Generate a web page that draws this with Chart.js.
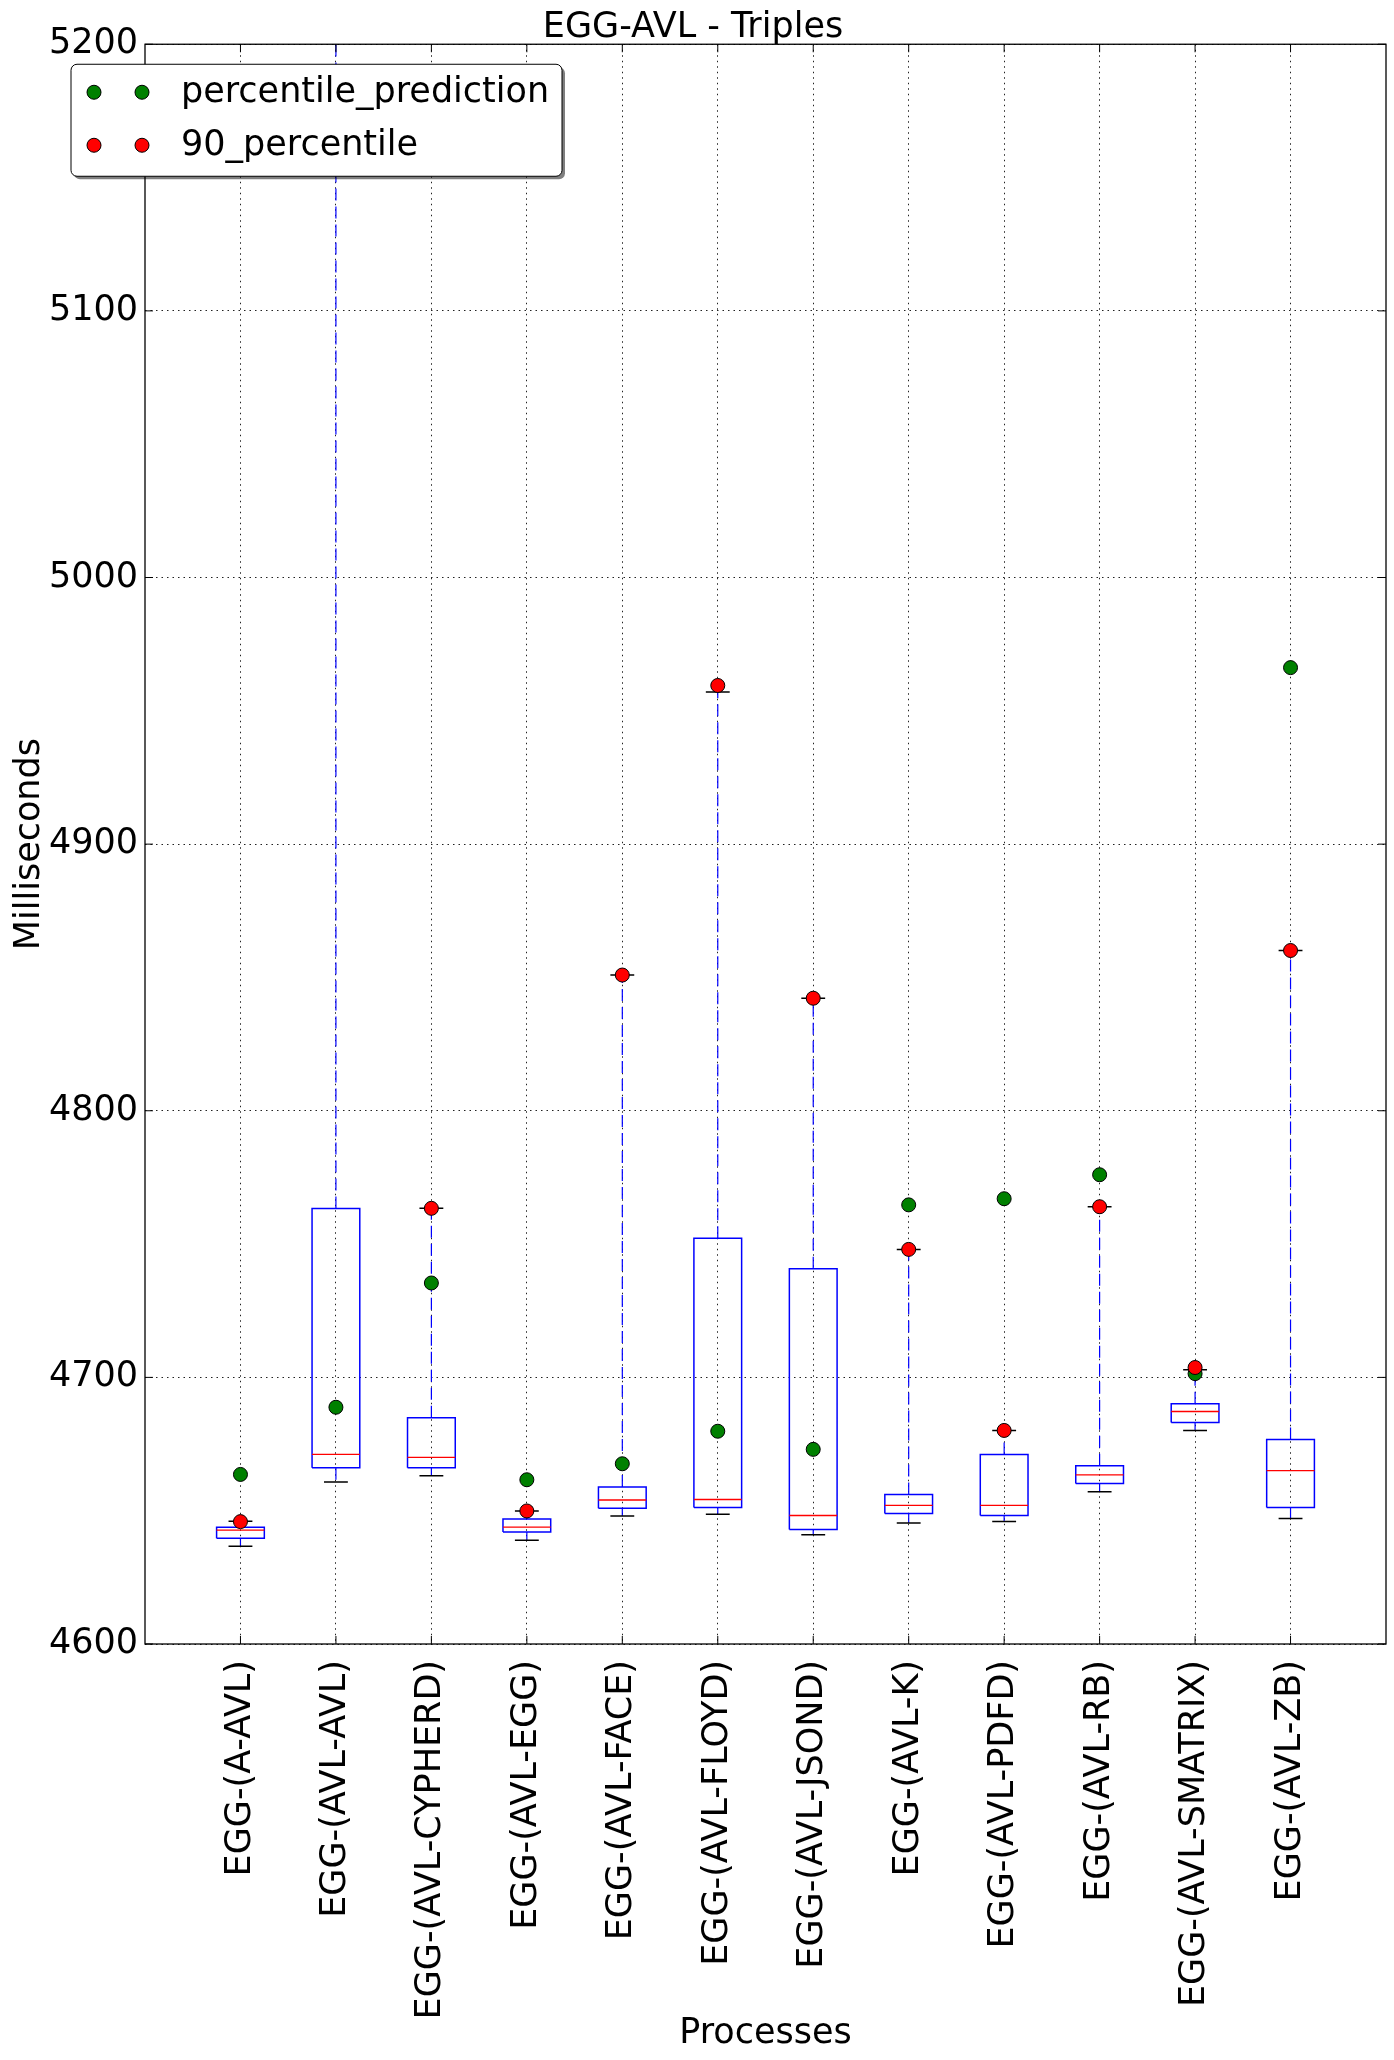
<!DOCTYPE html>
<html>
<head>
<meta charset="utf-8">
<script src="https://cdn.jsdelivr.net/npm/chart.js@4.4.1/dist/chart.umd.min.js"></script>
<style>
  html, body { margin: 0; padding: 0; background: #fff; }
  canvas { display: block; }
</style>
</head>
<body>
<canvas id="chart" width="1394" height="2060"></canvas>
<script>
const categories = [
  'EGG-(A-AVL)', 'EGG-(AVL-AVL)', 'EGG-(AVL-CYPHERD)', 'EGG-(AVL-EGG)',
  'EGG-(AVL-FACE)', 'EGG-(AVL-FLOYD)', 'EGG-(AVL-JSOND)', 'EGG-(AVL-K)',
  'EGG-(AVL-PDFD)', 'EGG-(AVL-RB)', 'EGG-(AVL-SMATRIX)', 'EGG-(AVL-ZB)'
];
const whiskerLow  = [4636.7, 4660.8, 4663.1, 4638.9, 4648.0, 4648.7, 4641.0, 4645.4, 4645.9, 4657.1, 4680.1, 4647.1];
const q1          = [4639.7, 4666.1, 4666.1, 4642.0, 4650.9, 4651.2, 4642.9, 4648.9, 4648.2, 4660.2, 4683.1, 4651.2];
const median      = [4642.7, 4671.1, 4670.0, 4643.8, 4654.0, 4654.2, 4648.2, 4652.0, 4652.0, 4663.4, 4687.2, 4665.0];
const q3          = [4643.8, 4763.3, 4684.9, 4646.9, 4658.9, 4752.2, 4740.7, 4656.1, 4671.1, 4666.9, 4690.1, 4676.7];
const whiskerHigh = [4646.0, 5330.0, 4763.4, 4649.9, 4850.9, 4957.1, 4842.2, 4748.0, 4680.1, 4764.0, 4702.9, 4860.1];
const prediction  = [4663.6, 4688.8, 4735.4, 4661.6, 4667.6, 4679.8, 4673.0, 4764.7, 4767.0, 4776.0, 4701.4, 4966.2];
const p90         = [4645.9, 5330.0, 4763.4, 4649.9, 4850.9, 4959.5, 4842.2, 4748.0, 4680.1, 4764.0, 4703.7, 4860.1];
const yTicks = [4600, 4700, 4800, 4900, 5000, 5100, 5200];

const FONT = 'DejaVu Sans';
const FONT_SIZE = 35;
const BOX_HALF = 0.25;
const CAP_HALF = 0.125;

// join several polylines into one dataset, with gaps between them
function paths(list) {
  const out = [];
  list.forEach((pts, k) => {
    if (k > 0) out.push({ x: pts[0].x, y: null });
    pts.forEach(p => out.push(p));
  });
  return out;
}

const boxPaths = paths(categories.map((c, i) => {
  const x = i + 1;
  return [
    { x: x - BOX_HALF, y: q1[i] }, { x: x + BOX_HALF, y: q1[i] },
    { x: x + BOX_HALF, y: q3[i] }, { x: x - BOX_HALF, y: q3[i] },
    { x: x - BOX_HALF, y: q1[i] }
  ];
}));
const medianPaths = paths(categories.map((c, i) => [
  { x: i + 1 - BOX_HALF, y: median[i] }, { x: i + 1 + BOX_HALF, y: median[i] }
]));
const whiskerPaths = paths(categories.flatMap((c, i) => [
  [{ x: i + 1, y: q3[i] }, { x: i + 1, y: whiskerHigh[i] }],
  [{ x: i + 1, y: q1[i] }, { x: i + 1, y: whiskerLow[i] }]
]));
const capPaths = paths(categories.flatMap((c, i) => [
  [{ x: i + 1 - CAP_HALF, y: whiskerHigh[i] }, { x: i + 1 + CAP_HALF, y: whiskerHigh[i] }],
  [{ x: i + 1 - CAP_HALF, y: whiskerLow[i] }, { x: i + 1 + CAP_HALF, y: whiskerLow[i] }]
]));

const lineBase = { type: 'line', pointRadius: 0, fill: false, tension: 0, spanGaps: false };
const dotBase = { type: 'line', showLine: false, pointRadius: 7, pointBorderWidth: 1, pointBorderColor: '#000' };

const framePlugin = {
  id: 'frame',
  afterDatasetsDraw(chart) {
    const { ctx, chartArea: a, scales: { x, y } } = chart;
    ctx.save();
    ctx.strokeStyle = '#000';
    ctx.lineWidth = 1;
    ctx.beginPath();
    x.ticks.forEach(t => {
      const px = x.getPixelForValue(t.value);
      ctx.moveTo(px, a.bottom); ctx.lineTo(px, a.bottom - 8);
      ctx.moveTo(px, a.top); ctx.lineTo(px, a.top + 8);
    });
    y.ticks.forEach(t => {
      const py = y.getPixelForValue(t.value);
      ctx.moveTo(a.left, py); ctx.lineTo(a.left + 8, py);
      ctx.moveTo(a.right, py); ctx.lineTo(a.right - 8, py);
    });
    ctx.stroke();
    ctx.lineWidth = 1.3;
    ctx.strokeRect(a.left, a.top, a.right - a.left, a.bottom - a.top);
    ctx.restore();
  }
};

const legendPlugin = {
  id: 'boxLegend',
  afterDraw(chart) {
    const { ctx, chartArea: a } = chart;
    const entries = [chart.data.datasets[1], chart.data.datasets[0]];
    const bx = a.left - 74, by = a.top + 20, bw = 491, bh = 112;
    ctx.save();
    ctx.fillStyle = 'rgba(0,0,0,0.5)';
    ctx.beginPath(); ctx.roundRect(bx + 3, by + 3, bw, bh, 6); ctx.fill();
    ctx.fillStyle = '#fff';
    ctx.strokeStyle = '#000';
    ctx.lineWidth = 1;
    ctx.beginPath(); ctx.roundRect(bx, by, bw, bh, 6); ctx.fill(); ctx.stroke();
    ctx.font = FONT_SIZE + 'px "' + FONT + '"';
    ctx.textBaseline = 'middle';
    entries.forEach((ds, k) => {
      const cy = by + 28 + k * 53;
      [bx + 23, bx + 71].forEach(cx => {
        ctx.beginPath();
        ctx.arc(cx, cy, 7, 0, Math.PI * 2);
        ctx.fillStyle = ds.pointBackgroundColor;
        ctx.fill();
        ctx.strokeStyle = '#000';
        ctx.stroke();
      });
      ctx.fillStyle = '#000';
      ctx.fillText(ds.label, bx + 110, cy + 1);
    });
    ctx.restore();
  }
};

new Chart(document.getElementById('chart'), {
  type: 'line',
  data: {
    datasets: [
      { ...dotBase, label: '90_percentile', data: p90.map((v, i) => ({ x: i + 1, y: v })), pointBackgroundColor: '#ff0000' },
      { ...dotBase, label: 'percentile_prediction', data: prediction.map((v, i) => ({ x: i + 1, y: v })), pointBackgroundColor: '#008000' },
      { ...lineBase, label: 'medians', data: medianPaths, borderColor: '#ff0000', borderWidth: 1.3 },
      { ...lineBase, label: 'caps', data: capPaths, borderColor: '#000', borderWidth: 1.5 },
      { ...lineBase, label: 'whiskers', data: whiskerPaths, borderColor: '#0000ff', borderWidth: 1.2, borderDash: [12, 6] },
      { ...lineBase, label: 'boxes', data: boxPaths, borderColor: '#0000ff', borderWidth: 1.5 }
    ]
  },
  options: {
    responsive: false,
    animation: false,
    devicePixelRatio: 1,
    events: [],
    layout: { padding: { left: 0, right: 8, top: 3, bottom: 0 } },
    plugins: {
      legend: { display: false },
      tooltip: { enabled: false },
      title: {
        display: true,
        text: 'EGG-AVL - Triples',
        color: '#000',
        font: { family: FONT, size: FONT_SIZE, weight: 'normal', lineHeight: 1.15 },
        padding: { top: 5, bottom: -4 }
      }
    },
    scales: {
      x: {
        type: 'linear',
        min: 0,
        max: 13,
        afterBuildTicks: scale => { scale.ticks = categories.map((c, i) => ({ value: i + 1 })); },
        afterFit: scale => { scale.height = 416; },
        ticks: {
          autoSkip: false,
          minRotation: 90,
          maxRotation: 90,
          padding: 16,
          color: '#000',
          font: { family: FONT, size: FONT_SIZE },
          callback: v => categories[v - 1]
        },
        grid: { color: '#222', lineWidth: 1, drawTicks: false },
        border: { display: false, dash: [1.5, 4] },
        title: {
          display: true,
          text: 'Processes',
          color: '#000',
          font: { family: FONT, size: FONT_SIZE },
          padding: { top: 0, bottom: 5 }
        }
      },
      y: {
        min: 4600,
        max: 5200,
        afterBuildTicks: scale => { scale.ticks = yTicks.map(v => ({ value: v })); },
        afterFit: scale => { scale.width = 145; },
        ticks: {
          padding: 7,
          color: '#000',
          font: { family: FONT, size: FONT_SIZE },
          callback: v => String(v)
        },
        grid: { color: '#222', lineWidth: 1, drawTicks: false },
        border: { display: false, dash: [1.5, 4] },
        title: {
          display: true,
          text: 'Milliseconds',
          color: '#000',
          font: { family: FONT, size: FONT_SIZE },
          padding: { top: 9, bottom: 0 }
        }
      }
    }
  },
  plugins: [framePlugin, legendPlugin]
});
</script>
</body>
</html>
